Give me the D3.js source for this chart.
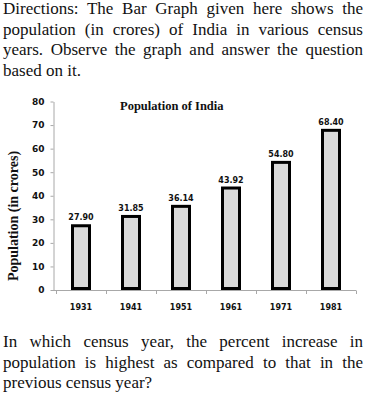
<!DOCTYPE html>
<html>
<head>
<meta charset="utf-8">
<script src="https://cdn.jsdelivr.net/npm/d3@7"></script>
<style>
  body { margin: 0; background: #fff; }
  #wrap { position: relative; width: 368px; height: 395px; overflow: hidden; }
  .para {
    position: absolute; left: 3px; width: 360px;
    font-family: "Liberation Serif", serif; font-size: 17px; line-height: 20.5px;
    text-align: justify; color: #111;
  }
  svg { position: absolute; left: 0; top: 0; }
</style>
</head>
<body>
<div id="wrap"></div>
<script>
'use strict';

const years = ['1931', '1941', '1951', '1961', '1971', '1981'];
const population = [27.90, 31.85, 36.14, 43.92, 54.80, 68.40];
const valueLabels = ['27.90', '31.85', '36.14', '43.92', '54.80', '68.40'];
const yTicks = [0, 10, 20, 30, 40, 50, 60, 70, 80];

const wrap = d3.select('#wrap');

wrap.append('div').attr('class', 'para').style('top', '-1px')
  .text('Directions: The Bar Graph given here shows the population (in crores) of India in various census years. Observe the graph and answer the question based on it.');

wrap.append('div').attr('class', 'para').style('top', '332px')
  .text('In which census year, the percent increase in population is highest as compared to that in the previous census year?');

const svg = wrap.append('svg').attr('width', 368).attr('height', 395);

const x = d3.scaleBand()
  .domain(years)
  .range([56, 356])
  .paddingInner(0.6)
  .paddingOuter(0.3);

const y = d3.scaleLinear()
  .domain([0, 80])
  .range([290, 101.5]);

const step = x.step();
const axisColor = '#a8a8a8';

// y axis
const yAxis = svg.append('g')
  .attr('transform', 'translate(53.5,0)')
  .call(d3.axisLeft(y).tickValues(yTicks).tickSize(3).tickPadding(6).tickSizeOuter(0));
yAxis.select('.domain').attr('stroke', axisColor);
yAxis.selectAll('.tick line').attr('stroke', axisColor);
yAxis.selectAll('.tick text')
  .attr('font-family', '"DejaVu Sans", sans-serif')
  .attr('font-weight', 'bold')
  .attr('font-size', 9)
  .attr('fill', '#111');

// x axis line and ticks at category boundaries
svg.append('line')
  .attr('x1', 53).attr('x2', 356)
  .attr('y1', 290.5).attr('y2', 290.5)
  .attr('stroke', axisColor);

const bounds = years.map(d => x(d) - step * 0.3).concat([x(years[years.length - 1]) + x.bandwidth() + step * 0.3]);
svg.selectAll('.xtick')
  .data(bounds)
  .enter()
  .append('line')
  .attr('x1', d => Math.round(d) + 0.5)
  .attr('x2', d => Math.round(d) + 0.5)
  .attr('y1', 290.5).attr('y2', 294)
  .attr('stroke', axisColor);

svg.selectAll('.xlabel')
  .data(years)
  .enter()
  .append('text')
  .attr('x', d => x(d) + x.bandwidth() / 2)
  .attr('y', 310)
  .attr('text-anchor', 'middle')
  .attr('font-family', '"DejaVu Sans", sans-serif')
  .attr('font-weight', 'bold')
  .attr('font-size', 8)
  .attr('fill', '#111')
  .text(d => d);

// bars
svg.selectAll('.bar')
  .data(population)
  .enter()
  .append('rect')
  .attr('x', (d, i) => x(years[i]) + 1.5)
  .attr('y', d => y(d) + 1.5)
  .attr('width', x.bandwidth() - 3)
  .attr('height', d => y(0) - y(d) - 3)
  .attr('fill', '#d9d9d9')
  .attr('stroke', '#000')
  .attr('stroke-width', 3);

svg.selectAll('.val')
  .data(population)
  .enter()
  .append('text')
  .attr('x', (d, i) => x(years[i]) + x.bandwidth() / 2)
  .attr('y', d => y(d) - 4)
  .attr('text-anchor', 'middle')
  .attr('font-family', '"DejaVu Sans", sans-serif')
  .attr('font-weight', 'bold')
  .attr('font-size', 8)
  .attr('fill', '#111')
  .text((d, i) => valueLabels[i]);

// titles
svg.append('text')
  .attr('x', 120)
  .attr('y', 110)
  .attr('font-family', '"Liberation Serif", serif')
  .attr('font-weight', 'bold')
  .attr('font-size', 12.5)
  .attr('fill', '#111')
  .text('Population of India');

svg.append('text')
  .attr('transform', 'translate(18,216) rotate(-90)')
  .attr('text-anchor', 'middle')
  .attr('font-family', '"Liberation Serif", serif')
  .attr('font-weight', 'bold')
  .attr('font-size', 14)
  .attr('fill', '#111')
  .text('Population (in crores)');
</script>
</body>
</html>
